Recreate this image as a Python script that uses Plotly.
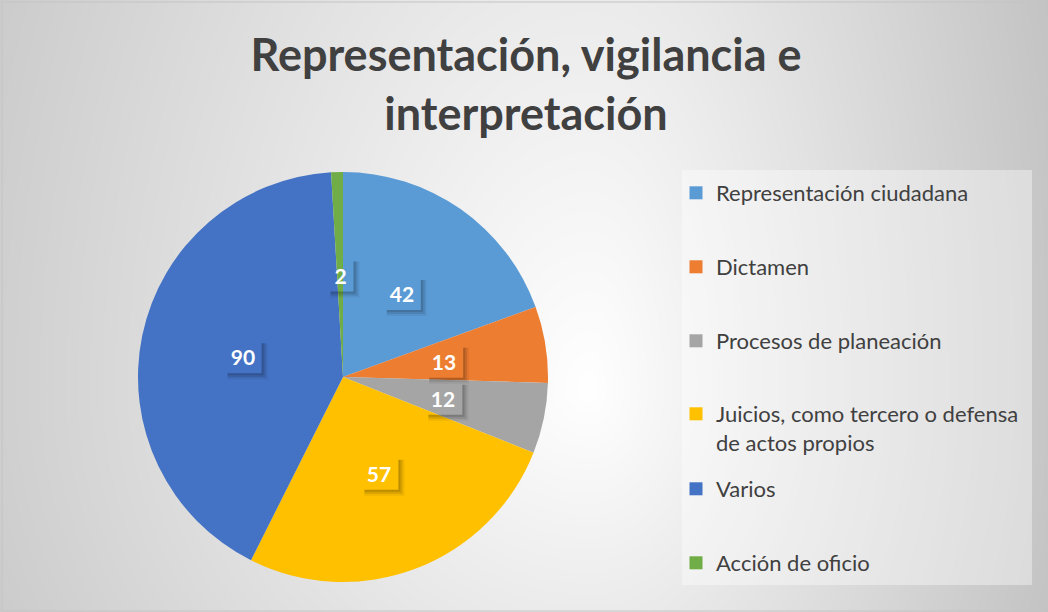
import base64, struct, zlib
import numpy as np
import plotly.graph_objects as go

# ---- data ----
categories = ["Representación ciudadana", "Dictamen", "Procesos de planeación",
              "Juicios, como tercero o defensa<br>de actos propios", "Varios", "Acción de oficio"]
values = [42, 13, 12, 57, 90, 2]
colors = ["#5B9BD5", "#ED7D31", "#A5A5A5", "#FFC000", "#4472C4", "#70AD47"]
title_text = "Representación, vigilancia e<br>interpretación"

W, H = 1048, 612
FONT = "Lato"

# ---- background gradient image (PNG built by hand) ----
def gradient_png(w, h):
    xs = np.arange(w)[None, :].astype(float)
    ys = np.arange(h)[:, None].astype(float)
    cx, cy = 590.0, 390.0
    dx = xs - cx
    dy = ys - cy
    sx = np.where(dx < 0, 750.0, 490.0)
    sy = np.where(dy < 0, 1190.0, 680.0)
    t = np.sqrt((dx / sx) ** 2 + (dy / sy) ** 2)
    v = np.clip(255 - 60 * t, 180, 255).astype(np.uint8)
    raw = b"".join(b"\x00" + v[i].tobytes() for i in range(h))
    def chunk(tag, data):
        c = struct.pack(">I", len(data)) + tag + data
        return c + struct.pack(">I", zlib.crc32(tag + data) & 0xffffffff)
    png = b"\x89PNG\r\n\x1a\n"
    png += chunk(b"IHDR", struct.pack(">IIBBBBB", w, h, 8, 0, 0, 0, 0))
    png += chunk(b"IDAT", zlib.compress(raw, 9))
    png += chunk(b"IEND", b"")
    return "data:image/png;base64," + base64.b64encode(png).decode()

# pie geometry (pixels)
pcx, pcy, pr = 343, 377, 205
dom_x = [(pcx - pr) / W, (pcx + pr) / W]
dom_y = [1 - (pcy + pr) / H, 1 - (pcy - pr) / H]

fig = go.Figure()
fig.add_trace(go.Pie(
    labels=categories, values=values, sort=False, direction="clockwise", rotation=0,
    marker=dict(colors=colors, line=dict(width=0)),
    textinfo="none", showlegend=False, domain=dict(x=dom_x, y=dom_y),
))

# data labels at half radius, from cumulative angles
vals = np.array(values, dtype=float)
cum = np.cumsum(vals) - vals / 2
ang = cum / vals.sum() * 2 * np.pi
cxp = (dom_x[0] + dom_x[1]) / 2
cyp = (dom_y[0] + dom_y[1]) / 2
rxp = (dom_x[1] - dom_x[0]) / 2 * 0.5
ryp = (dom_y[1] - dom_y[0]) / 2 * 0.5
annotations = []
shapes = []
for v, a, c in zip(values, ang, colors):
    ax = cxp + rxp * np.sin(a)
    ay = cyp + ryp * np.cos(a)
    bw = 11 * len(str(v)) + 16
    bh = 34
    # soft drop shadow outside the (transparent) label box: right and bottom strips
    for off, op in [(6, 0.06), (4, 0.10), (2, 0.12)]:
        shapes.append(dict(type="rect", xref="paper", yref="paper", xsizemode="pixel", ysizemode="pixel",
                           xanchor=ax, yanchor=ay,
                           x0=bw / 2, x1=bw / 2 + off, y0=-bh / 2 - off, y1=bh / 2 - 4,
                           fillcolor=f"rgba(0,0,0,{op})", line=dict(width=0), layer="above"))
        shapes.append(dict(type="rect", xref="paper", yref="paper", xsizemode="pixel", ysizemode="pixel",
                           xanchor=ax, yanchor=ay,
                           x0=-bw / 2 + 4, x1=bw / 2, y0=-bh / 2 - off, y1=-bh / 2,
                           fillcolor=f"rgba(0,0,0,{op})", line=dict(width=0), layer="above"))
    annotations.append(dict(x=ax, y=ay, xref="paper", yref="paper", showarrow=False,
                            xanchor="center", yanchor="middle",
                            text=f"<b>{v}</b>", font=dict(family=FONT, size=21, color="white"),
                            bgcolor="rgba(0,0,0,0)", borderpad=0, width=bw, height=bh,
                            align="center", valign="middle"))

# legend: one legend per entry
legend_y = [193, 267, 341, 428.5, 489, 563]
layout_legends = {}
for i, (lab, c, ly) in enumerate(zip(categories, colors, legend_y)):
    key = "legend" if i == 0 else f"legend{i+1}"
    fig.add_trace(go.Scatter(x=[None], y=[None], mode="markers", name=lab,
                             marker=dict(symbol="square", size=13, color=c),
                             legend=key, showlegend=True, hoverinfo="skip"))
    layout_legends[key] = dict(x=676 / W, y=1 - ly / H, xanchor="left", yanchor="middle",
                               bgcolor="rgba(0,0,0,0)", valign="top",
                               font=dict(family=FONT, size=22, color="#404040"))

fig.update_layout(
    width=W, height=H, margin=dict(l=0, r=0, t=0, b=0),
    paper_bgcolor="#d9d9d9", plot_bgcolor="rgba(0,0,0,0)",
    title=dict(text=f"<b>{title_text}</b>", x=526 / W, xanchor="center", y=1 - 71 / H, yanchor="middle",
               font=dict(family=FONT, size=45, color="#404040")),
    xaxis=dict(visible=False), yaxis=dict(visible=False),
    images=[dict(source=gradient_png(W, H), xref="paper", yref="paper", x=0, y=1,
                 sizex=1, sizey=1, sizing="stretch", layer="below", xanchor="left", yanchor="top")],
    shapes=[
        dict(type="rect", xref="paper", yref="paper", x0=682 / W, x1=1032 / W, y0=1 - 585 / H, y1=1 - 170 / H,
             fillcolor="rgba(255,255,255,0.38)", line=dict(width=0), layer="below"),
        dict(type="rect", xref="paper", yref="paper", x0=2 / W, x1=1046 / W, y0=1 / H, y1=1 - 2 / H,
             fillcolor="rgba(0,0,0,0)", line=dict(width=1, color="#c4c4c4"), layer="above"),
    ] + shapes,
    annotations=annotations,
    **layout_legends,
)

fig.write_html("out.html", config={"displayModeBar": False},
               post_script="document.body.style.margin='0';document.body.style.padding='0';")
